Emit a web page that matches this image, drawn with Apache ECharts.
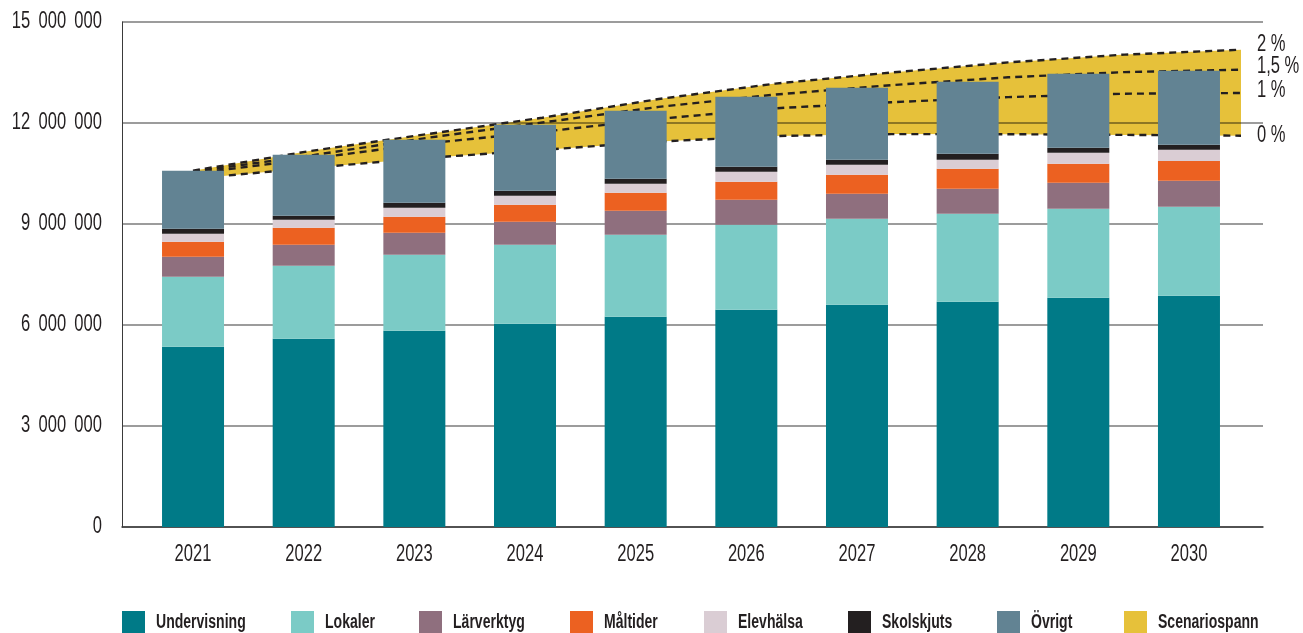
<!DOCTYPE html>
<html>
<head>
<meta charset="utf-8">
<script src="https://cdn.jsdelivr.net/npm/echarts@6/dist/echarts.min.js"></script>
<style>
  html, body { margin: 0; padding: 0; background: #ffffff; }
  #chart { width: 1303px; height: 633px; }
</style>
</head>
<body>
<div id="chart"></div>
<script>
// Kostnader per verksamhet (kr), 2021–2030
const years = ['2021', '2022', '2023', '2024', '2025', '2026', '2027', '2028', '2029', '2030'];

const undervisning = [5355000, 5593000, 5831000, 6039000, 6247000, 6455000, 6603000, 6692000, 6811000, 6870000];
const lokaler      = [2080000, 2168000, 2257000, 2346000, 2435000, 2524000, 2555000, 2614000, 2643000, 2644000];
const larverktyg   = [594000, 624000, 654000, 683000, 713000, 743000, 742000, 743000, 773000, 772000];
const maltider     = [446000, 505000, 475000, 506000, 535000, 535000, 564000, 594000, 564000, 585000];
const elevhalsa    = [238000, 238000, 267000, 267000, 267000, 296000, 297000, 267000, 327000, 336000];
const skolskjuts   = [149000, 119000, 149000, 148000, 149000, 149000, 149000, 178000, 148000, 148000];
const ovrigt       = [1723000, 1812000, 1871000, 1961000, 2019000, 2079000, 2138000, 2139000, 2198000, 2199000];

// Scenarier för kostnadsutveckling per år
const scen0  = [10346000, 10663000, 10960000, 11201000, 11448000, 11614000, 11670000, 11667000, 11647000, 11623000];
const scen1  = [10494000, 10934000, 11391000, 11739000, 12122000, 12437000, 12618000, 12769000, 12870000, 12891000];
const scen15 = [10553000, 11029000, 11554000, 12015000, 12478000, 12844000, 13126000, 13357000, 13512000, 13583000];
const scen2  = [10583000, 11165000, 11664000, 12157000, 12713000, 13170000, 13500000, 13800000, 14032000, 14177000];
const scenarioLabels = ['0 %', '1 %', '1,5 %', '2 %'];

const yMax = 15000000;
const yStep = 3000000;

// Smal (kondenserad) text: all canvastext ritas horisontellt hoptryckt kring sin ankarpunkt
(function () {
  const SX = 0.72;
  const P = CanvasRenderingContext2D.prototype;
  const fill = P.fillText, stroke = P.strokeText, measure = P.measureText;
  function wrap(fn) {
    return function (t, x, y, maxW) {
      this.save();
      this.translate(x, y);
      this.scale(SX, 1);
      if (maxW !== undefined) fn.call(this, t, 0, 0, maxW / SX);
      else fn.call(this, t, 0, 0);
      this.restore();
    };
  }
  P.fillText = wrap(fill);
  P.strokeText = wrap(stroke);
  P.measureText = function (t) {
    const m = measure.call(this, t);
    return {
      width: m.width * SX,
      actualBoundingBoxLeft: m.actualBoundingBoxLeft * SX,
      actualBoundingBoxRight: m.actualBoundingBoxRight * SX,
      actualBoundingBoxAscent: m.actualBoundingBoxAscent,
      actualBoundingBoxDescent: m.actualBoundingBoxDescent,
      fontBoundingBoxAscent: m.fontBoundingBoxAscent,
      fontBoundingBoxDescent: m.fontBoundingBoxDescent
    };
  };
})();

const FONT = "'Liberation Sans', Arial, sans-serif";
const TEXT = '#231F20';
const YELLOW = '#E6C13A';

const costSeries = [
  { name: 'Undervisning', data: undervisning, color: '#007A87' },
  { name: 'Lokaler',      data: lokaler,      color: '#7BCBC6' },
  { name: 'Lärverktyg',   data: larverktyg,   color: '#8F6F7E' },
  { name: 'Måltider',     data: maltider,     color: '#EC6121' },
  { name: 'Elevhälsa',    data: elevhalsa,    color: '#DACDD4' },
  { name: 'Skolskjuts',   data: skolskjuts,   color: '#231F20' },
  { name: 'Övrigt',       data: ovrigt,       color: '#628393' }
];

// Tusentalsavgränsare med blanksteg
const fmt = v => String(v).replace(/\B(?=(\d{3})+(?!\d))/g, '\u2002');

const series = [];

// Staplade staplar
costSeries.forEach(s => {
  series.push({
    name: s.name,
    type: 'bar',
    stack: 'cost',
    xAxisIndex: 1,
    yAxisIndex: 1,
    barWidth: 62,
    itemStyle: { color: s.color },
    z: 5,
    data: s.data
  });
});

// Scenariospann: fyllt område mellan 0 %- och 2 %-linjen
series.push({
  type: 'line',
  stack: 'band',
  xAxisIndex: 2,
  yAxisIndex: 2,
  data: scen0,
  symbol: 'none',
  lineStyle: { width: 0, opacity: 0 },
  silent: true,
  z: 0
});
series.push({
  name: 'Scenariospann',
  type: 'line',
  stack: 'band',
  xAxisIndex: 2,
  yAxisIndex: 2,
  data: scen2.map((v, i) => v - scen0[i]),
  symbol: 'none',
  itemStyle: { color: YELLOW },
  lineStyle: { width: 0, opacity: 0 },
  areaStyle: { color: YELLOW, opacity: 1 },
  silent: true,
  z: 0
});

// Streckade scenariolinjer med etiketter i slutet
const scenLines = [scen0, scen1, scen15, scen2];
const labelShift = [0, -2, -3, -5];
scenLines.forEach((d, i) => {
  series.push({
    type: 'line',
    xAxisIndex: 2,
    yAxisIndex: 2,
    data: d,
    symbol: 'none',
    silent: true,
    lineStyle: { color: '#231F20', width: 2.4, type: [7, 5] },
    endLabel: {
      show: true,
      formatter: scenarioLabels[i],
      distance: 16,
      offset: [0, labelShift[i]],
      fontFamily: FONT,
      fontSize: 23,
      color: TEXT
    },
    z: 2
  });
});

// En förklaring per post
const legendNames = costSeries.map(s => s.name).concat(['Scenariospann']);
const legendLeft = [122, 291, 419, 570, 704, 848, 997, 1124];
const legends = legendNames.map((n, i) => ({
  data: [n],
  left: legendLeft[i],
  top: 611,
  padding: 0,
  icon: 'rect',
  itemWidth: 23,
  itemHeight: 23,
  selectedMode: false,
  textStyle: {
    fontFamily: FONT,
    fontWeight: 'bold',
    fontSize: 19.5,
    color: TEXT,
    padding: [0, 0, 0, 6]
  }
}));

const option = {
  animation: false,
  backgroundColor: '#ffffff',
  legend: legends,
  grid: [
    { left: 122, right: 40, top: 22, bottom: 106, outerBoundsMode: 'none' },
    { left: 137.7, right: 58.7, top: 22, bottom: 106, outerBoundsMode: 'none' },
    { left: 193, right: 62, top: 22, bottom: 106, outerBoundsMode: 'none' }
  ],
  xAxis: [
    {
      gridIndex: 0, type: 'value', min: 0, max: 1,
      axisLabel: { show: false }, axisTick: { show: false }, splitLine: { show: false },
      axisLine: { show: true, lineStyle: { color: '#3a3a3a', width: 1.5 } },
      z: 1
    },
    {
      gridIndex: 1, type: 'category', data: years,
      axisLine: { show: false }, axisTick: { show: false },
      axisLabel: { fontFamily: FONT, fontSize: 23, color: TEXT, margin: 19 }
    },
    {
      gridIndex: 2, type: 'category', data: years, boundaryGap: false, show: false
    }
  ],
  yAxis: [
    {
      gridIndex: 0, type: 'value', min: 0, max: yMax, interval: yStep,
      axisLine: { show: true, lineStyle: { color: '#3a3a3a', width: 1 } },
      axisTick: { show: false },
      axisLabel: { fontFamily: FONT, fontSize: 23, color: TEXT, margin: 20, formatter: fmt, padding: [3, 0, 0, 0] },
      splitLine: { show: true, lineStyle: { color: 'rgba(0,0,0,0.52)', width: 1.5 } },
      z: 1
    },
    { gridIndex: 1, type: 'value', min: 0, max: yMax, show: false },
    { gridIndex: 2, type: 'value', min: 0, max: yMax, show: false }
  ],
  series: series
};

const chart = echarts.init(document.getElementById('chart'), null, { renderer: 'canvas' });
chart.setOption(option);
</script>
</body>
</html>
